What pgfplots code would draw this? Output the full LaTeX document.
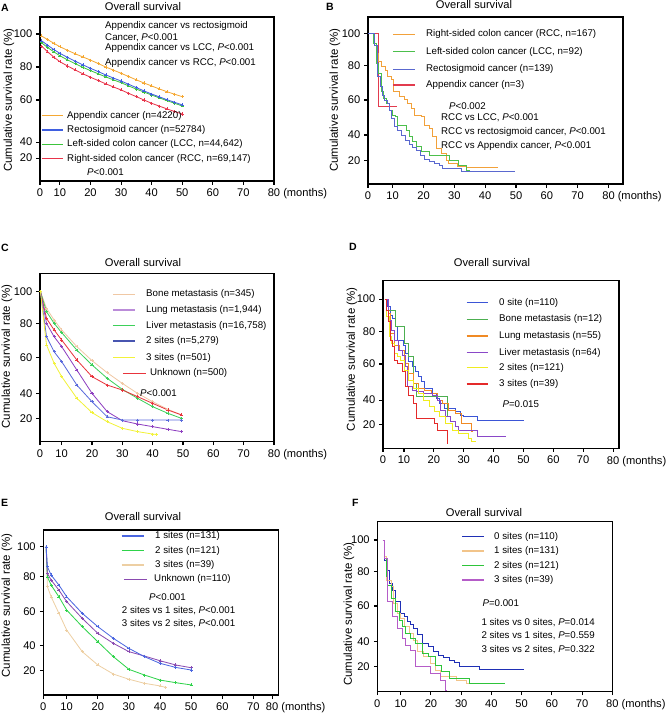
\documentclass[border=0pt]{standalone}
\usepackage{pgfplots}
\pgfplotsset{compat=1.18}
\usepackage{fontspec}
\setmainfont{Liberation Sans}

\def\px{0.03cm}
\newcommand\tickf{\fontsize{9.5}{11}\selectfont}
\newcommand\legf{\fontsize{8.3}{10}\selectfont}
\newcommand\titf{\fontsize{9.5}{11}\selectfont}
\newcommand\ylf{\fontsize{9.8}{11.5}\selectfont}

% panel A
\definecolor{aorange}{HTML}{F5A833}
\definecolor{ablue}{HTML}{3F5FE0}
\definecolor{agreen}{HTML}{3CC43C}
\definecolor{ared}{HTML}{E8344A}
% panel B
\definecolor{borange}{HTML}{F2A13A}
\definecolor{bgreen}{HTML}{4CBF4C}
\definecolor{bblue}{HTML}{5A68CF}
\definecolor{bred}{HTML}{E23B4E}
% panel C
\definecolor{ctan}{HTML}{F0C8A4}
\definecolor{cpurple}{HTML}{8E3FC0}
\definecolor{cgreen}{HTML}{3DD05A}
\definecolor{cblue}{HTML}{5A6ADC}
\definecolor{cyellow}{HTML}{F2F23A}
\definecolor{cred}{HTML}{E8343C}
% panel D
\definecolor{dblue}{HTML}{3B55D6}
\definecolor{dgreen}{HTML}{4CAF50}
\definecolor{dorange}{HTML}{F08A24}
\definecolor{dpurple}{HTML}{8A48C8}
\definecolor{dyellow}{HTML}{F0EC20}
\definecolor{dred}{HTML}{E42A2A}
% panel E
\definecolor{eblue}{HTML}{4A66E0}
\definecolor{egreen}{HTML}{2ED34A}
\definecolor{etan}{HTML}{EDCFA3}
\definecolor{epurple}{HTML}{8A4AB0}
% panel F
\definecolor{fblue}{HTML}{1F2FB5}
\definecolor{ftan}{HTML}{F2C48A}
\definecolor{fgreen}{HTML}{2EC43A}
\definecolor{fpurple}{HTML}{B55CC8}

\pgfplotsset{
  km/.style={
    scale only axis, anchor=south west, clip=false,
    axis line style={line width=1.3pt},
    tick style={black, line width=0.9pt},
    major tick length=3pt, tick align=outside,
    xtick pos=left, ytick pos=left,
    tick label style={font=\tickf},
    /pgf/number format/assume math mode=true,
    yticklabels={20,40,60,80,100},
    xticklabels={0,10,20,30,40,50,60,70,{80\rlap{ (months)}}},
  },
  kmline/.style={line width=0.7pt, mark=+, mark size=1.3pt, mark options={line width=0.4pt}},
  kmstep/.style={const plot, line width=0.6pt, no marks},
}

\newcommand\lgitem[6]{%
  \draw[#1, line width=1.1pt] (#2*\px,-#4*\px) -- (#3*\px,-#4*\px);
  \node[anchor=west, inner sep=0, font=\legf] at (#5*\px,-#4*\px) {#6};}
\newcommand\txt[3]{\node[anchor=west, inner sep=0, font=\legf] at (#1*\px,-#2*\px) {#3};}
\newcommand\ttl[2]{\node[font=\titf] at (#1*\px,-#2*\px) {Overall survival};}
\newcommand\plab[3]{\node[anchor=west, inner sep=0, font=\bfseries\fontsize{9}{10}\selectfont] at (#1*\px,-#2*\px) {#3};}
\newcommand\ylab[2]{\node[rotate=90, font=\ylf] at (#1*\px,-#2*\px) {Cumulative survival rate (\%)};}

\begin{document}
\begin{tikzpicture}
\path[use as bounding box] (0,0) rectangle (20.04cm,-21.39cm);

% ---------------- A
\begin{axis}[km, at={(1.2cm,-5.43cm)}, width=7.02cm, height=4.92cm,
  xmin=3.5, xmax=80, ymin=10.9, ymax=110.3,
  xtick={3.5,10,20,30,40,50,60,70,80}, ytick={24.8,34.5,60,80,100}]
\addplot[kmline, aorange] coordinates {(4,98.8)(6,96.6)(8,94.4)(10,92.3)(12.5,90.1)(15,88.0)(17.5,86.1)(20,84.2)(22.5,82.1)(25,80.0)(27.5,78.1)(30,76.2)(32.5,74.2)(35,72.2)(37.5,70.3)(40,68.5)(42.5,66.7)(45,65.0)(47.5,63.5)(50,62.0)};
\addplot[kmline, agreen] coordinates {(4,94.7)(6,91.8)(8,89.2)(10,86.8)(12.5,84.3)(15,82.0)(17.5,79.8)(20,77.8)(22.5,75.9)(25,74.0)(27.5,72.2)(30,70.5)(32.5,68.5)(35,66.6)(37.5,64.8)(40,63.0)(42.5,61.3)(45,59.6)(47.5,58.0)(50,56.4)};
\addplot[kmline, ablue] coordinates {(4,95.9)(6,93.2)(8,90.6)(10,88.3)(12.5,85.8)(15,83.5)(17.5,81.3)(20,79.2)(22.5,77.2)(25,75.2)(27.5,73.3)(30,71.5)(32.5,69.5)(35,67.5)(37.5,65.5)(40,63.6)(42.5,61.9)(45,60.2)(47.5,58.6)(50,57.0)};
\addplot[kmline, ared] coordinates {(4,92.7)(6,89.2)(8,86.0)(10,83.2)(12.5,80.6)(15,78.2)(17.5,75.9)(20,73.8)(22.5,71.8)(25,69.8)(27.5,67.9)(30,66.1)(32.5,64.0)(35,62.0)(37.5,60.0)(40,58.0)(42.5,56.3)(45,54.6)(47.5,53.0)(50,51.5)};
\end{axis}

% ---------------- B
\begin{axis}[km, at={(11.04cm,-5.52cm)}, width=7.65cm, height=5.01cm,
  xmin=2, xmax=84.7, ymin=9.6, ymax=109.8,
  xtick={2,10,20,30,40,50,60,70,80}, ytick={23.6,39,60,80.6,100}]
\addplot[kmstep, bred] coordinates {(2,100)(5.35,56)(11.4,56)};
\addplot[kmstep, borange] coordinates {(2,100)(3.84,94)(4.59,88)(5.35,83)(6.22,80)(7.51,78)(8.38,74.4)(9.46,72.4)(10.32,65)(12.16,62)(13.78,60.4)(14.65,58)(15.95,55)(17.03,51)(19.41,50)(20.27,45)(21.89,43)(22.76,38)(24.05,31)(25.68,28)(27.3,24)(28.05,22)(31.08,20.4)(33.78,19.6)(44.05,19.6)};
\addplot[kmstep, bgreen] coordinates {(2,100)(3.84,94)(4.59,82)(5.35,76)(6.22,65)(7.08,61)(7.84,58)(8.92,54)(10,51)(10.76,50)(11.62,45)(14.32,42)(15.41,38)(16.49,35)(17.57,32)(19.41,29)(21.89,27)(28.38,24)(31.3,21)(33.78,18)(34.86,17)(35.62,17)};
\addplot[kmstep, bblue] coordinates {(2,100)(4.05,93)(4.92,74)(6,68)(6.76,63)(7.3,60)(8.16,58)(8.92,54)(9.68,49)(10.54,44)(11.62,42)(12.7,39)(14,36)(15.41,33.6)(16.49,31.6)(17.57,29.6)(18.97,27)(20.27,24.4)(21.89,23.4)(23.51,22)(25.14,20.6)(26.22,19)(32.16,17.4)(49.57,17.4)};
\end{axis}

% ---------------- C
\begin{axis}[km, at={(1.2cm,-13.25cm)}, width=7.02cm, height=5.05cm,
  xmin=2.85, xmax=80, ymin=9.1, ymax=111.1,
  xtick={2.85,10,20,30,40,50,60,70,80}, ytick={23.2,38.4,60,80.8,100}]
\addplot[kmline, ctan] coordinates {(3,100)(5,89.9)(7.5,82.8)(10,76.8)(15,66.7)(20,58.2)(25,50.9)(30,44.4)(35,38.4)(40,33.3)(45,28.7)(49.5,25.3)};
\addplot[kmline, cgreen] coordinates {(3,100)(5,87.9)(7.5,80.8)(10,75.2)(15,64.6)(20,55.6)(25,47.5)(30,40.8)(35,35.4)(40,30.3)(45,26.3)(49.5,23.2)};
\addplot[kmline, cred] coordinates {(3,100)(5,83.8)(7.5,76.8)(10,70.7)(15,58.6)(20,48.5)(25,43.4)(30,40.4)(35,36.4)(40,32.3)(45,28.3)(49.5,25.3)};
\addplot[kmline, cpurple] coordinates {(3,100)(5,80.8)(7.5,72.7)(10,66.7)(15,52.5)(20,38.4)(25,27.3)(30,21.8)(35,19.8)(40,18.2)(45,16.6)(49.5,15.2)};
\addplot[kmline, cblue] coordinates {(3,100)(5,72.7)(7.5,63.6)(10,57.6)(15,43.4)(20,33.3)(25,24.2)(30,22.2)(35,22.2)(40,22.2)(45,22.2)(49.5,22.2)};
\addplot[kmline, cyellow] coordinates {(3,100)(5,67.7)(7.5,56.6)(10,48.5)(15,35.4)(20,26.7)(25,21.2)(30,17.2)(35,15.2)(40,13.7)(41.2,13.5)};
\end{axis}

% ---------------- D
\begin{axis}[km, at={(11.49cm,-13.45cm)}, width=7.08cm, height=5.03cm,
  xmin=2.97, xmax=82, ymin=8.1, ymax=111.3,
  xtick={2.97,10,20,30,40,50,60,70,80}, ytick={22.5,37.8,60,79.9,100}]
\addplot[kmstep, dblue] coordinates {(3.57,100)(4.43,95.3)(5.5,90.2)(6.25,88.1)(7.0,83)(7.86,74.8)(9.79,71.7)(10.54,66.6)(11.6,61.4)(12.68,58.4)(13.75,55.3)(14.82,52.2)(15.9,49.1)(16.97,45)(19.65,41.9)(20.72,38.9)(21.79,35.8)(23.4,32.7)(27.15,30.7)(28.76,28.6)(29.83,27.6)(34.65,25.1)(50.19,25.1)};
\addplot[kmstep, dgreen] coordinates {(3.57,100)(4.1,93.2)(7.11,83)(10,72.7)(11.6,64.5)(13,48.1)(14.07,39.9)(24.47,27.6)(25,27.6)};
\addplot[kmstep, dorange] coordinates {(3.57,100)(4.64,91.2)(5.5,78.9)(6.78,71.7)(8.39,68.6)(10,60.4)(11.6,54.3)(13.2,48.1)(14.82,45)(16.97,44)(19.11,41.9)(21.25,37.8)(22.86,35.8)(25,31.7)(27.15,29.6)(29.29,23.5)(32.5,18.4)(33.04,18.4)};
\addplot[kmstep, dpurple] coordinates {(3.57,100)(4.64,87.1)(5.71,80.9)(6.78,74.8)(8.07,68.6)(9.46,65.5)(10.54,58.4)(11.29,46.1)(12.68,44)(14.29,43)(16.43,41.9)(19.65,40.9)(21.25,37.8)(22.33,31.7)(23.93,27.6)(25.54,24.5)(27.15,21.4)(28.22,19.4)(34.65,15.3)(44.3,15.3)};
\addplot[kmstep, dyellow] coordinates {(3.57,100)(4.1,89.1)(5.18,76.8)(5.93,72.7)(6.78,66.6)(7.86,64.5)(8.93,62.5)(10.21,56.3)(11.6,50.2)(13.2,45)(14.82,41.9)(16.43,37.8)(18.57,33.7)(20.18,30.7)(21.79,27.6)(23.93,23.5)(26.08,19.4)(28.22,17.3)(31.44,14.3)(32.5,12.2)(34.12,12.2)};
\addplot[kmstep, dred] coordinates {(3.57,100)(4.1,93.2)(4.64,86.1)(5.5,74.8)(6.25,70.7)(6.78,62.5)(7.86,60.4)(9.46,55.3)(10.54,46.1)(11.6,40.9)(13.2,35.8)(14.29,26.6)(20.18,23.5)(21.25,19.4)(24.47,11.2)(24.5,11.2)};
\end{axis}

% ---------------- E
\begin{axis}[km, at={(1.3cm,-20.85cm)}, width=7.05cm, height=4.95cm,
  xmin=2.5, xmax=78, ymin=8.7, ymax=110.3,
  xtick={2.5,10,20,30,40,50,60,70,76}, ytick={23.7,38.9,60,81.5,100}]
\addplot[kmline, etan] coordinates {(3.4,100)(3.8,75.4)(5,69.2)(7.5,59.0)(10,48.7)(15,35.4)(20,27.2)(25,21.6)(30,18.4)(35,15.9)(40,14.3)(41.8,13.4)};
\addplot[kmline, egreen] coordinates {(3.4,100)(3.8,81.5)(5,76.4)(7.5,69.2)(10,61.0)(15,50.8)(20,41.5)(25,32.3)(30,24.5)(35,21.0)(40,17.9)(45,16.3)(50,14.9)};
\addplot[kmline, epurple] coordinates {(3.4,100)(3.8,83.6)(5,79.5)(7.5,73.3)(10,66.2)(15,55.9)(20,46.7)(25,40.5)(30,35.4)(35,32.7)(40,29.8)(45,27.2)(50,25.5)};
\addplot[kmline, eblue] coordinates {(3.4,100)(3.8,87.7)(5,82.6)(7.5,76.4)(10,69.2)(15,59.0)(20,50.8)(25,43.6)(30,37.4)(35,32.3)(40,28.2)(45,25.7)(50,24.1)};
\end{axis}

% ---------------- F
\begin{axis}[km, at={(11.32cm,-20.75cm)}, width=7.05cm, height=5.1cm,
  xmin=2.26, xmax=80, ymin=8.1, ymax=111.1,
  xtick={2.26,10,20,30,40,50,60,70,80}, ytick={23.2,38.4,60,80.8,100}]
\addplot[kmstep, fblue] coordinates {(4.06,100)(4.6,87.9)(5.14,81.8)(6.22,73.7)(7.3,69.7)(8.38,62.6)(9.78,55.6)(11.08,53.5)(12.16,50.5)(13.24,49.1)(14.32,46.5)(15.4,43)(17.02,37.4)(19.18,35.4)(20.8,32.3)(22.42,30.3)(24.04,28.9)(26.2,27.3)(27.82,25.7)(29.44,23.2)(35.92,21.6)(50.82,21.6)};
\addplot[kmstep, ftan] coordinates {(4.06,100)(4.6,89.9)(5.14,75.8)(6.76,71.7)(7.62,61.6)(8.92,55.6)(10,52.5)(11.08,47.5)(12.7,43.4)(14.32,39.4)(15.4,32.3)(17.56,29.3)(19.72,25.3)(21.34,21.2)(22.96,17.2)(28.36,15.2)(31.6,13.1)(34.3,13.1)};
\addplot[kmstep, fgreen] coordinates {(4.06,100)(4.6,88.9)(5.14,77.8)(5.68,72.7)(6.98,64.6)(8.38,56.6)(9.46,51.5)(10.54,47.5)(11.62,43.4)(13.24,40.4)(14.86,37.4)(17.02,31.3)(19.18,29.3)(21.34,24.2)(23.5,20.2)(26.2,16.2)(32.68,13.1)(44.56,13.1)};
\addplot[kmstep, fpurple] coordinates {(4.06,100)(4.6,88.9)(5.68,62.6)(7.3,53.5)(8.92,46.5)(10.54,40.4)(11.62,36.4)(13.24,33.3)(14.86,23.2)(19.72,19.2)(22.96,15.2)(24.9,9.1)(24.95,9.1)};
\end{axis}

% ---------------- text, panel A
\plab{1}{8}{A}
\ttl{143}{7}
\ylab{9}{100}
\txt{105}{26}{Appendix cancer vs rectosigmoid}
\txt{105}{37.3}{Cancer, \textit{P}<0.001}
\txt{105}{48.3}{Appendix cancer vs LCC, \textit{P}<0.001}
\txt{105}{63.3}{Appendix cancer vs RCC, \textit{P}<0.001}
\lgitem{aorange}{42}{63}{115.7}{67}{Appendix cancer (n=4220)}
\lgitem{ablue}{42}{63}{130}{67}{Rectosigmoid cancer (n=52784)}
\lgitem{agreen}{42}{63}{144.3}{67}{Left-sided colon cancer (LCC, n=44,642)}
\lgitem{ared}{42}{63}{158.7}{67}{Right-sided colon cancer (RCC, n=69,147)}
\txt{87}{171.7}{\textit{P}<0.001}

% ---------------- text, panel B
\plab{326}{7}{B}
\ttl{474}{5}
\ylab{335}{100}
\lgitem{borange}{393}{415}{34.3}{426}{Right-sided colon cancer (RCC, n=167)}
\lgitem{bgreen}{393}{415}{51.7}{426}{Left-sided colon cancer (LCC, n=92)}
\lgitem{bblue}{393}{415}{69.3}{426}{Rectosigmoid cancer (n=139)}
\lgitem{bred}{393}{415}{85}{426}{Appendix cancer (n=3)}
\txt{449}{106}{\textit{P}<0.002}
\txt{441}{117.3}{RCC vs LCC, \textit{P}<0.001}
\txt{441}{132.3}{RCC vs rectosigmoid cancer, \textit{P}<0.001}
\txt{441}{145.7}{RCC vs Appendix cancer, \textit{P}<0.001}

% ---------------- text, panel C
\plab{1}{248}{C}
\ttl{143}{263}
\ylab{7}{356.7}
\lgitem{ctan}{113}{135}{294.3}{146}{Bone metastasis (n=345)}
\lgitem{cpurple!60}{113}{135}{310}{146}{Lung metastasis (n=1,944)}
\lgitem{cgreen}{113}{135}{325.7}{146}{Liver metastasis (n=16,758)}
\lgitem{cblue!80!black}{113}{135}{341}{146}{2 sites (n=5,279)}
\lgitem{cyellow}{113}{135}{357.7}{146}{3 sites (n=501)}
\lgitem{cred}{123}{146}{373.3}{150}{Unknown (n=500)}
\txt{140}{393.3}{\textit{P}<0.001}

% ---------------- text, panel D
\plab{349}{247}{D}
\ttl{492}{263}
\ylab{352}{359.3}
\lgitem{dblue}{466.7}{488}{302.7}{499}{0 site (n=110)}
\lgitem{dgreen}{466.7}{488}{319.3}{499}{Bone metastasis (n=12)}
\lgitem{dorange}{466.7}{488}{336}{499}{Lung metastasis (n=55)}
\lgitem{dpurple}{466.7}{488}{352.7}{499}{Liver metastasis (n=64)}
\lgitem{dyellow}{466.7}{488}{367.7}{499}{2 sites (n=121)}
\lgitem{dred}{466.7}{488}{384}{499}{3 sites (n=39)}
\txt{502.3}{404}{\textit{P}=0.015}

% ---------------- text, panel E
\plab{1}{503}{E}
\ttl{143}{517}
\ylab{7}{605.7}
\lgitem{eblue}{121.7}{144}{536}{155}{1 sites (n=131)}
\lgitem{egreen}{121.7}{144}{550.7}{155}{2 sites (n=121)}
\lgitem{etan}{121.7}{144}{565}{155}{3 sites (n=39)}
\lgitem{epurple}{124}{146.7}{579.3}{154}{Unknown (n=110)}
\txt{149}{596.7}{\textit{P}<0.001}
\txt{121.7}{610.7}{2 sites vs 1 sites, \textit{P}<0.001}
\txt{121.7}{624}{3 sites vs 2 sites, \textit{P}<0.001}

% ---------------- text, panel F
\plab{352}{503}{F}
\ttl{484}{512.7}
\ylab{349}{614}
\lgitem{fblue}{462.3}{484}{536.7}{494}{0 sites (n=110)}
\lgitem{ftan}{462.3}{484}{551}{494}{1 sites (n=131)}
\lgitem{fgreen}{462.3}{484}{565.7}{494}{2 sites (n=121)}
\lgitem{fpurple}{462.3}{484}{580}{494}{3 sites (n=39)}
\txt{482.3}{602.7}{\textit{P}=0.001}
\txt{481.3}{622.7}{1 sites vs 0 sites, \textit{P}=0.014}
\txt{481.3}{636}{2 sites vs 1 sites, \textit{P}=0.559}
\txt{481.3}{649.3}{3 sites vs 2 sites, \textit{P}=0.322}
\end{tikzpicture}
\end{document}
